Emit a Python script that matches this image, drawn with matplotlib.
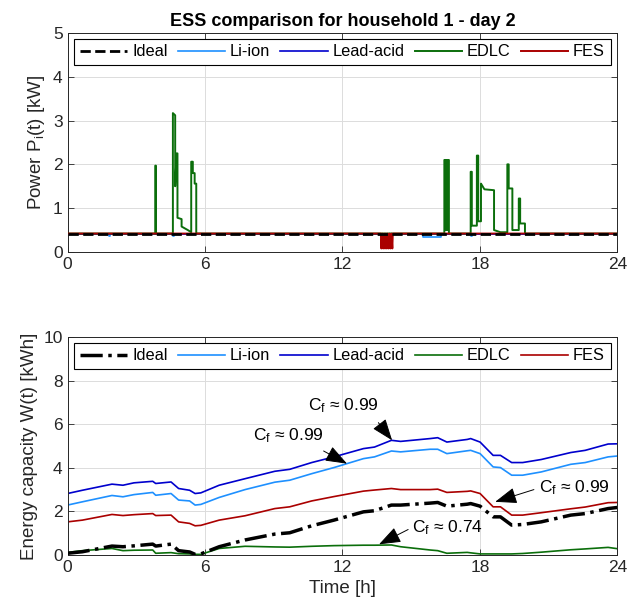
import matplotlib.pyplot as plt

plt.rcParams['font.family'] = ['Liberation Sans', 'DejaVu Sans']
plt.rcParams['mathtext.fontset'] = 'custom'
plt.rcParams['mathtext.rm'] = 'Liberation Sans'
plt.rcParams['mathtext.it'] = 'Liberation Sans'

# ---- top: power of each storage (kW) ----
base = 0.42
p_ideal_t = [0, 24]
p_ideal = [base, base]
p_lead_t = [0, 24]
p_lead = [base, base]

p_li_t = [0, 1.8, 1.8, 1.85, 1.85, 4.6, 4.6, 4.65, 4.65, 10.6, 10.6, 10.65, 10.65,
          15.5, 15.5, 16.3, 16.3, 17.6, 17.6, 17.65, 17.65, 21.9, 21.9, 21.95, 21.95, 24]
p_li = [base, base, 0.37, 0.37, base, base, 0.36, 0.36, base, base, 0.38, 0.38, base,
        base, 0.35, 0.35, base, base, 0.36, 0.36, base, base, 0.38, 0.38, base, base]

p_edlc_t = [0, 3.83, 3.83, 3.86, 3.86,
            4.60, 4.60, 4.70, 4.70, 4.76, 4.80, 4.80, 4.98, 4.98, 5.25, 5.40, 5.40,
            5.47, 5.47, 5.55, 5.55, 5.62, 5.62,
            16.45, 16.45, 16.52, 16.52, 16.58, 16.58, 16.65, 16.65,
            17.60, 17.60, 17.65, 17.65, 17.87, 17.87, 17.93, 17.93, 18.05, 18.05,
            18.12, 18.20, 18.62, 18.62, 18.90, 19.20, 19.20, 19.26, 19.26, 19.42,
            19.42, 19.70, 19.70, 19.76, 19.76, 19.97, 19.97, 24]
p_edlc = [base, base, 1.97, 1.97, base,
          base, 3.17, 3.12, 1.5, 2.25, 2.25, 0.78, 0.75, 0.58, 0.5, 0.45, 2.06,
          2.06, 1.8, 1.8, 1.56, 1.56, base,
          base, 2.1, 2.1, 0.5, 0.5, 2.1, 2.1, base,
          base, 1.83, 1.83, 0.6, 0.6, 2.2, 2.2, 0.7, 0.7, 1.56,
          1.5, 1.43, 1.41, 0.5, 0.45, 0.45, 2.0, 2.0, 1.45, 1.45,
          0.5, 0.5, 1.22, 1.22, 0.65, 0.65, base, base]

p_fes_t = [0, 13.68, 13.70, 13.74, 13.78, 13.82, 13.86, 13.90, 13.94, 13.98,
           14.02, 14.06, 14.10, 14.14, 14.18, 14.20, 24]
p_fes = [base, base, 0.08, 0.42, 0.08, 0.42, 0.08, 0.42, 0.08, 0.42,
         0.08, 0.42, 0.08, 0.42, 0.08, base, base]

# ---- bottom: stored energy (kWh) ----
w_t = [0, 0.65, 1.94, 2.42, 2.9, 3.72, 3.85, 4.52, 4.85, 5.33, 5.57, 5.82, 6.62,
       7.75, 9.05, 9.7, 10.66, 11.63, 12.92, 13.4, 14.14, 14.54, 15.83, 16.16,
       16.56, 17.45, 17.6, 18.01, 18.58, 18.9, 19.39, 19.87, 20.68, 21.97, 22.6,
       23.6, 24]
w_lead = [2.82, 2.97, 3.25, 3.2, 3.31, 3.38, 3.28, 3.35, 3.05, 2.97, 2.82, 2.85, 3.2,
          3.5, 3.84, 3.93, 4.24, 4.5, 4.88, 4.95, 5.26, 5.21, 5.34, 5.38,
          5.18, 5.3, 5.34, 5.18, 4.57, 4.57, 4.24, 4.24, 4.38, 4.7, 4.8,
          5.09, 5.1]
w_li = [2.29, 2.44, 2.73, 2.67, 2.77, 2.87, 2.74, 2.82, 2.52, 2.48, 2.29, 2.32, 2.64,
        3.0, 3.34, 3.43, 3.73, 4.01, 4.42, 4.5, 4.77, 4.73, 4.85, 4.85,
        4.65, 4.78, 4.8, 4.65, 4.04, 4.01, 3.66, 3.66, 3.81, 4.16, 4.24,
        4.5, 4.54]
w_fes = [1.52, 1.6, 1.86, 1.81, 1.85, 1.9, 1.81, 1.83, 1.52, 1.45, 1.34, 1.36, 1.6,
         1.8, 2.13, 2.21, 2.48, 2.68, 2.93, 2.98, 3.05, 3.0, 3.0, 3.02,
         2.87, 2.92, 2.94, 2.82, 2.21, 2.21, 1.83, 1.83, 1.94, 2.12, 2.2,
         2.4, 2.41]
w_ideal = [0.08, 0.15, 0.41, 0.38, 0.42, 0.5, 0.41, 0.5, 0.2, 0.14, 0.03, 0.05, 0.38,
           0.69, 0.96, 1.02, 1.34, 1.6, 1.98, 2.03, 2.29, 2.29, 2.38, 2.41,
           2.24, 2.33, 2.36, 2.24, 1.75, 1.75, 1.37, 1.4, 1.52, 1.83, 1.9,
           2.13, 2.18]
w_edlc = [0.12, 0.2, 0.3, 0.2, 0.22, 0.23, 0.08, 0.11, 0.06, 0.05, 0.03, 0.03, 0.3,
          0.4, 0.37, 0.36, 0.4, 0.43, 0.45, 0.45, 0.46, 0.38, 0.23, 0.2,
          0.08, 0.12, 0.1, 0.05, 0.05, 0.05, 0.05, 0.07, 0.13, 0.24, 0.28,
          0.35, 0.29]

# annotations: label text, text position, arrow tail, arrow tip
notes = [
    (r'C$_\mathregular{f}$ ≈ 0.99', (12.04, 6.86), (13.57, 6.07), (14.17, 5.26)),
    (r'C$_\mathregular{f}$ ≈ 0.99', (9.66, 5.49), (11.18, 4.77), (12.2, 4.19)),
    (r'C$_\mathregular{f}$ ≈ 0.99', (22.14, 3.08), (20.36, 3.0), (18.67, 2.44)),
    (r'C$_\mathregular{f}$ ≈ 0.74', (16.57, 1.25), (14.87, 1.17), (13.6, 0.49)),
]

c_li = '#1e90ff'
c_lead = '#0000cd'
c_edlc = '#0b6e0b'
c_fes = '#aa0000'
gray = '#262626'

fig = plt.figure(figsize=(6.4, 6.16), dpi=100)
ax1 = fig.add_axes([0.1055, 0.591, 0.859, 0.3555])
ax2 = fig.add_axes([0.1055, 0.099, 0.859, 0.354])

ax1.plot(p_li_t, p_li, color=c_li, lw=1.2, label='Li-ion', zorder=3)
ax1.plot(p_lead_t, p_lead, color=c_lead, lw=1.2, label='Lead-acid', zorder=3)
ax1.plot(p_edlc_t, p_edlc, color=c_edlc, lw=1.4, label='EDLC', zorder=3)
ax1.plot(p_fes_t, p_fes, color=c_fes, lw=1.4, label='FES', zorder=3)
ax1.plot(p_ideal_t, p_ideal, color='k', ls='--', lw=2, label='Ideal', zorder=4)

ax2.plot(w_t, w_li, color=c_li, lw=1.2, label='Li-ion')
ax2.plot(w_t, w_lead, color=c_lead, lw=1.2, label='Lead-acid')
ax2.plot(w_t, w_edlc, color=c_edlc, lw=1.2, label='EDLC')
ax2.plot(w_t, w_fes, color=c_fes, lw=1.2, label='FES')
ax2.plot(w_t, w_ideal, color='k', ls='-.', lw=2.5, label='Ideal', zorder=4)

for txt, pos, tail, tip in notes:
    ax2.text(pos[0], pos[1], txt, ha='center', va='center', fontsize=12.5)
    ax2.annotate('', xy=tip, xytext=tail,
                 arrowprops=dict(arrowstyle='-|>,head_length=0.75,head_width=0.28',
                                 color='k', lw=0.7, mutation_scale=18,
                                 shrinkA=0, shrinkB=0))

order = ['Ideal', 'Li-ion', 'Lead-acid', 'EDLC', 'FES']
for ax, ymax, ystep in [(ax1, 5, 1), (ax2, 10, 2)]:
    h, l = ax.get_legend_handles_labels()
    hd = dict(zip(l, h))
    leg = ax.legend([hd[k] for k in order], order, loc='upper center', ncol=5,
                    fontsize=11.8, frameon=True, fancybox=False, framealpha=1,
                    edgecolor='k', handlelength=2.9, handletextpad=0.3,
                    columnspacing=0.6, borderpad=0.35, borderaxespad=0.35)
    leg.get_frame().set_linewidth(0.8)
    ax.set_xlim(0, 24)
    ax.set_ylim(0, ymax)
    ax.set_xticks([0, 6, 12, 18, 24])
    ax.set_yticks(range(0, ymax + 1, ystep))
    ax.grid(True, color='#dcdcdc', lw=0.7)
    ax.set_axisbelow(True)
    ax.tick_params(direction='in', top=True, right=True, labelsize=12.5,
                   colors=gray, length=4, width=0.6)
    for s in ax.spines.values():
        s.set_color(gray)
        s.set_linewidth(0.7)

ax1.set_title('ESS comparison for household 1 - day 2', fontsize=13,
              fontweight='bold', pad=5)
ax1.set_ylabel(r'Power P$_\mathregular{i}$(t) [kW]', fontsize=13.5, color=gray)
ax2.set_ylabel('Energy capacity W(t) [kWh]', fontsize=13.5, color=gray)
ax2.set_xlabel('Time [h]', fontsize=13.5, color=gray)

fig.savefig('out.png', dpi=100)
